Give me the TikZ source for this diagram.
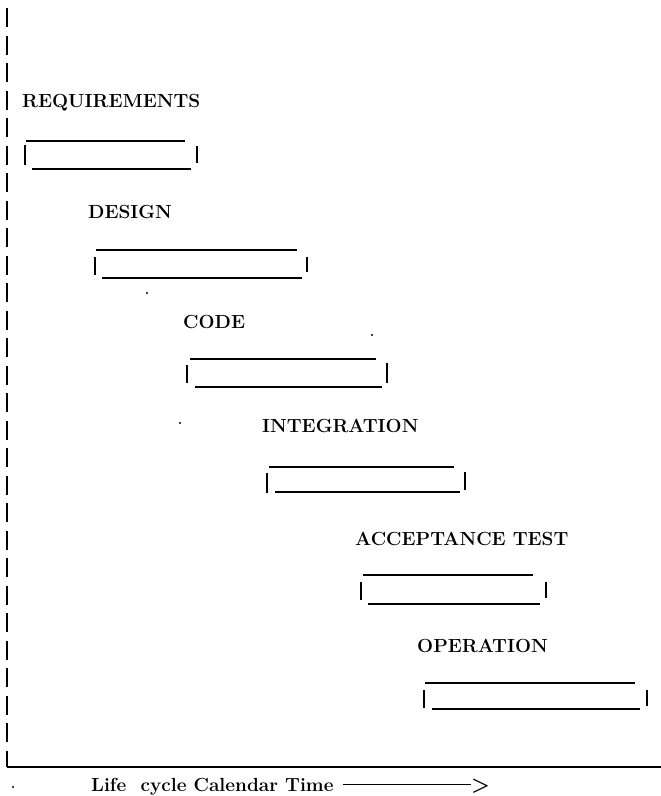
\documentclass[tikz,border=0pt]{standalone}
\begin{document}
\begin{tikzpicture}[x=1pt, y=-1pt,
		phase/.style = {anchor=base west, inner sep=0pt, font=\fontsize{19}{22}\selectfont\bfseries},
		barline/.style = {line width=2.6pt},
		axis/.style = {line width=2.4pt}]
				\useasboundingbox (0,0) rectangle (661,796);
				\coordinate (top) at (7,8);
				\coordinate (origin) at (7,767);
				\coordinate (far) at (661,767);
				\draw[axis, dash pattern=on 19pt off 8.5pt] (top) -- (origin);
				\draw[axis] (origin) -- (far);
				\node (req) at (22,107) [phase] {REQUIREMENTS};
				\draw[barline] (26,141) -- (185,141) (25,145) -- (25,165) (32,169) -- (191,169) (197,146) -- (197,163);
				\node (design) at (88,218) [phase] {DESIGN};
				\draw[barline] (96,250) -- (297,250) (95,257) -- (95,275) (102,278) -- (302,278) (307,257) -- (307,272);
				\node (code) at (183,328) [phase] {CODE};
				\draw[barline] (190,359) -- (376,359) (187,365) -- (187,383) (195,387) -- (382,387) (387,363) -- (387,383);
				\node (integ) at (262,432) [phase] {INTEGRATION};
				\draw[barline] (269,467) -- (454,467) (267,473) -- (267,493) (275,492) -- (460,492) (465,472) -- (465,490);
				\node (accept) at (355,545) [phase] {ACCEPTANCE TEST};
				\draw[barline] (363,575) -- (533,575) (361,582) -- (361,600) (368,604) -- (540,604) (546,582) -- (546,598);
				\node (oper) at (417,652) [phase] {OPERATION};
				\draw[barline] (425,683) -- (635,683) (424,690) -- (424,708) (432,709) -- (640,709) (647,690) -- (647,706);
				\node (timelbl) at (91,791) [phase] {Life\ \ cycle Calendar Time};
				\node (gt) at (471,791) [phase, font=\fontsize{21}{22}\selectfont\bfseries] {>};
				\draw[line width=1.8pt] ([xshift=9pt,yshift=6.5pt]timelbl.base east) -- ([yshift=6.5pt]gt.base west);
				\fill (372,335) circle (1.2pt);
				\fill (147,293) circle (1.2pt);
				\fill (180,423) circle (1.2pt);
				\fill (13,787) circle (1.2pt);
		\end{tikzpicture}
\end{document}
